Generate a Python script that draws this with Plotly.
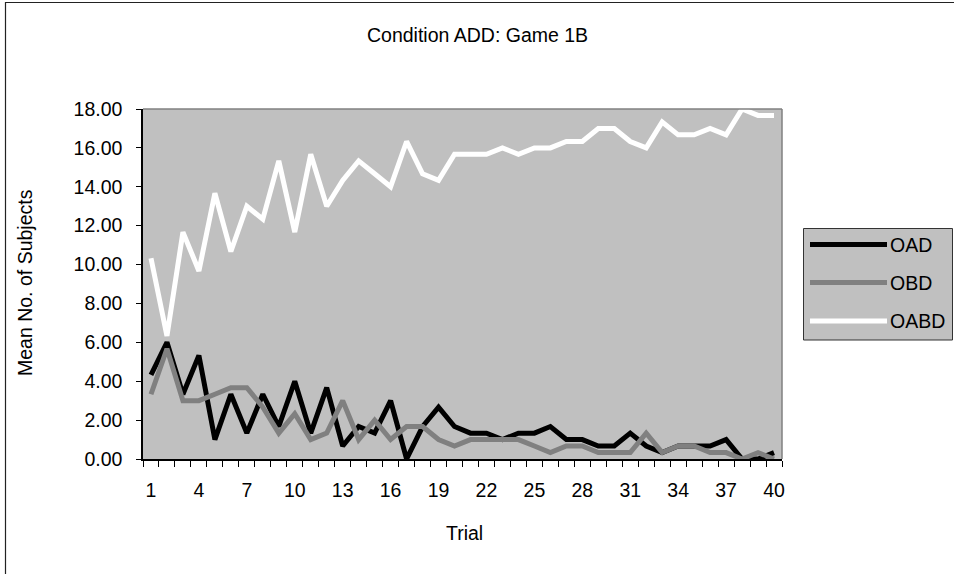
import plotly.graph_objects as go

# Mean number of subjects choosing each option, trials 1-40
trials = list(range(1, 41))
oad = [4.33, 6.00, 3.33, 5.33, 1.00, 3.33, 1.33, 3.33, 1.67, 4.00,
       1.33, 3.67, 0.67, 1.67, 1.33, 3.00, 0.00, 1.67, 2.67, 1.67,
       1.33, 1.33, 1.00, 1.33, 1.33, 1.67, 1.00, 1.00, 0.67, 0.67,
       1.33, 0.67, 0.33, 0.67, 0.67, 0.67, 1.00, 0.00, 0.00, 0.33]
obd = [3.33, 5.67, 3.00, 3.00, 3.33, 3.67, 3.67, 2.67, 1.33, 2.33,
       1.00, 1.33, 3.00, 1.00, 2.00, 1.00, 1.67, 1.67, 1.00, 0.67,
       1.00, 1.00, 1.00, 1.00, 0.67, 0.33, 0.67, 0.67, 0.33, 0.33,
       0.33, 1.33, 0.33, 0.67, 0.67, 0.33, 0.33, 0.00, 0.33, 0.00]
oabd = [10.33, 6.33, 11.67, 9.67, 13.67, 10.67, 13.00, 12.33, 15.33, 11.67,
        15.67, 13.00, 14.33, 15.33, 14.67, 14.00, 16.33, 14.67, 14.33, 15.67,
        15.67, 15.67, 16.00, 15.67, 16.00, 16.00, 16.33, 16.33, 17.00, 17.00,
        16.33, 16.00, 17.33, 16.67, 16.67, 17.00, 16.67, 18.00, 17.67, 17.67]

series_names = ["OAD", "OBD", "OABD"]
series_values = [oad, obd, oabd]
series_colors = ["#000000", "#808080", "#FFFFFF"]

x_tick_labels = [str(t) for t in range(1, 41, 3)]
y_tick_values = [v * 2 for v in range(10)]

W, H = 954, 574
ML, MR, MT, MB = 143, 172, 109, 115
PW = W - ML - MR
PH = H - MT - MB


def px(x):
    return (x - ML) / PW


def py(y):
    return (H - MB - y) / PH


FONT = "Liberation Sans, Arial, sans-serif"
FS = 19.5

fig = go.Figure()
for name, vals, col in zip(series_names, series_values, series_colors):
    fig.add_trace(go.Scatter(x=trials, y=vals, mode="lines", name=name,
                             line=dict(color=col, width=5),
                             showlegend=False))

shapes = [
    # outer chart frame
    dict(type="rect", xref="paper", yref="paper",
         x0=px(5.5), x1=px(1010), y0=py(620), y1=py(2.5),
         line=dict(color="#222222", width=1.2), layer="below"),
    # plot area top / right border
    dict(type="line", xref="paper", yref="paper", x0=0, x1=1, y0=1, y1=1,
         line=dict(color="#808080", width=1.5)),
    dict(type="line", xref="paper", yref="paper", x0=1, x1=1, y0=0, y1=1,
         line=dict(color="#808080", width=1.5)),
    # legend box
    dict(type="rect", xref="paper", yref="paper",
         x0=px(803.5), x1=px(952.5), y0=py(340), y1=py(228.5),
         fillcolor="#C0C0C0", line=dict(color="#333333", width=1)),
]


def label(text, x, y, angle=0, xanchor="center"):
    return dict(text=text, xref="paper", yref="paper", x=px(x), y=py(y),
                xanchor=xanchor, yanchor="middle", showarrow=False,
                textangle=angle,
                font=dict(family=FONT, size=FS, color="black"))


annotations = [
    label("Condition ADD: Game 1B", 477, 35),
    label("Trial", 464, 533),
    label("Mean No. of Subjects", 25, 283, angle=-90),
]

legend_rows = [244.5, 282.5, 321]
for name, col, yy in zip(series_names, series_colors, legend_rows):
    shapes.append(dict(type="line", xref="paper", yref="paper",
                       x0=px(810), x1=px(887), y0=py(yy), y1=py(yy),
                       line=dict(color=col, width=5)))
    annotations.append(label(name, 888, yy, xanchor="left"))

fig.update_layout(
    width=W, height=H,
    margin=dict(l=ML, r=MR, t=MT, b=MB),
    paper_bgcolor="white",
    plot_bgcolor="#C0C0C0",
    font=dict(family=FONT, size=FS, color="black"),
    shapes=shapes,
    annotations=annotations,
    xaxis=dict(
        range=[0.5, 40.5],
        tickmode="array",
        tickvals=list(range(1, 41, 3)),
        ticktext=x_tick_labels,
        ticks="",
        showgrid=False, zeroline=False,
        showline=True, linecolor="black", linewidth=1.5,
        ticklabelstandoff=13,
        minor=dict(tickmode="linear", tick0=0.5, dtick=1,
                   ticks="outside", ticklen=6, tickcolor="black",
                   tickwidth=1, showgrid=False),
        tickfont=dict(family=FONT, size=FS, color="black"),
    ),
    yaxis=dict(
        range=[0, 18],
        tickmode="array",
        tickvals=y_tick_values,
        tickformat=".2f",
        ticks="outside", ticklen=5, tickcolor="black", tickwidth=1,
        showgrid=False, zeroline=False,
        showline=True, linecolor="black", linewidth=1.5,
        ticklabelstandoff=10,
        tickfont=dict(family=FONT, size=FS, color="black"),
    ),
)

fig.write_html("out.html")
